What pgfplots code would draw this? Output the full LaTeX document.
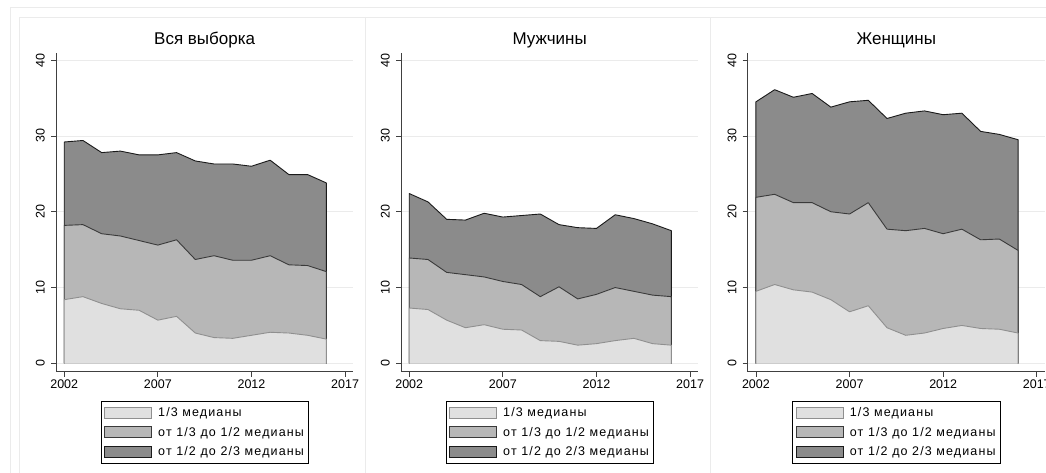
\documentclass[border=0pt]{standalone}
\usepackage{fontspec}
\setmainfont{Liberation Sans}
\newfontfamily\legfont[LetterSpace=9]{Liberation Sans}
\usepackage{pgfplots}
\usepackage{pgfplotstable}
\pgfplotsset{compat=1.18}
\definecolor{fl}{HTML}{E0E0E0}
\definecolor{fm}{HTML}{B7B7B7}
\definecolor{fd}{HTML}{8B8B8B}
\definecolor{ll}{HTML}{8F8F8F}
\definecolor{lm}{HTML}{3A3A3A}
\definecolor{ld}{HTML}{1A1A1A}
\definecolor{frame}{HTML}{EBEBEB}

\pgfplotstableread{
year a b c
2002 0 0 0
2002 8.4 18.2 29.2
2003 8.8 18.3 29.4
2004 7.9 17.1 27.8
2005 7.2 16.8 28.0
2006 7.0 16.2 27.5
2007 5.7 15.6 27.5
2008 6.2 16.3 27.8
2009 4.0 13.7 26.7
2010 3.4 14.2 26.3
2011 3.3 13.6 26.3
2012 3.7 13.6 26.0
2013 4.1 14.2 26.8
2014 4.0 13.0 24.9
2015 3.7 12.9 24.9
2016 3.2 12.1 23.8
2016 0 0 0
}\tabAll

\pgfplotstableread{
year a b c
2002 0 0 0
2002 7.3 13.9 22.4
2003 7.1 13.7 21.3
2004 5.7 12.0 19.0
2005 4.7 11.7 18.9
2006 5.1 11.4 19.8
2007 4.5 10.8 19.3
2008 4.4 10.4 19.5
2009 3.0 8.8 19.7
2010 2.9 10.1 18.3
2011 2.4 8.5 17.9
2012 2.6 9.1 17.8
2013 3.0 10.0 19.6
2014 3.3 9.5 19.1
2015 2.6 9.0 18.4
2016 2.4 8.8 17.5
2016 0 0 0
}\tabMen

\pgfplotstableread{
year a b c
2002 0 0 0
2002 9.5 21.9 34.5
2003 10.4 22.3 36.1
2004 9.7 21.2 35.1
2005 9.4 21.2 35.6
2006 8.4 20.0 33.8
2007 6.8 19.7 34.5
2008 7.6 21.2 34.7
2009 4.7 17.7 32.3
2010 3.7 17.5 33.0
2011 4.0 17.8 33.3
2012 4.6 17.1 32.8
2013 5.0 17.7 33.0
2014 4.6 16.3 30.6
2015 4.5 16.4 30.2
2016 4.0 14.9 29.5
2016 0 0 0
}\tabWomen

\pgfplotsset{panel/.style={
  scale only axis, width=297.3pt, height=318.4pt, anchor=south west,
  xmin=2001.56, xmax=2017.44, ymin=-1.1, ymax=40.9,
  axis x line*=bottom, axis y line*=left,
  axis line style={draw=black!75, line width=0.8pt},
  xtick={2002,2007,2012,2017}, ytick={0,10,20,30,40},
  tick align=outside, major tick length=5pt,
  tick style={draw=black!75, line width=0.8pt},
  /pgf/number format/assume math mode=true,
  xticklabel style={font=\fontsize{12.5}{14}\selectfont, /pgf/number format/set thousands separator={}},
  yticklabel style={font=\fontsize{12.5}{14}\selectfont, rotate=90, anchor=south, inner sep=6pt},
  ymajorgrids, grid style={draw=frame, line width=0.8pt},
  title style={font=\fontsize{17}{20}\selectfont, anchor=south, at={(0.5,1)}, yshift=-3pt, inner sep=2pt},
  legend style={at={(0.5,-0.092)}, anchor=north, draw=black, line width=0.8pt,
    font=\legfont\fontsize{12.5}{14}\selectfont, row sep=7pt, inner xsep=3.5pt, inner ysep=5pt,
    nodes={inner sep=1pt},
    /tikz/every odd column/.append style={column sep=5pt}},
  legend cell align=left,
  legend image code/.code={\draw[#1, line width=0.8pt] (0pt,-5.5pt) rectangle (47pt,5.5pt);},
}}

\newcommand{\panel}[3]{%
  \begin{axis}[panel, at={(#1,101.3pt)}, title={#3}]
    \addlegendimage{fill=fl, draw=ll}
    \addlegendentry{1/3 медианы}
    \addlegendimage{fill=fm, draw=lm}
    \addlegendentry{от 1/3 до 1/2 медианы}
    \addlegendimage{fill=fd, draw=ld}
    \addlegendentry{от 1/2 до 2/3 медианы}
    \addplot[forget plot, fill=fd, draw=ld, line width=0.9pt, line join=round] table[x=year, y=c] {#2};
    \addplot[forget plot, fill=fm, draw=lm, line width=0.9pt, line join=round] table[x=year, y=b] {#2};
    \addplot[forget plot, fill=fl, draw=ll, line width=0.9pt, line join=round] table[x=year, y=a] {#2};
  \end{axis}}

\begin{document}
\begin{tikzpicture}[x=1pt, y=1pt]
  \useasboundingbox (0,0) rectangle (1046,473);
  \draw[frame, line width=0.8pt] (10,0) -- (10,466) -- (1046,466);
  \draw[frame, line width=0.8pt] (19,0) -- (19,456) -- (1046,456);
  \draw[frame, line width=0.8pt] (365.7,0) -- (365.7,456);
  \draw[frame, line width=0.8pt] (710.7,0) -- (710.7,456);
  \panel{56pt}{\tabAll}{Вся выборка}
  \panel{401pt}{\tabMen}{Мужчины}
  \panel{747.7pt}{\tabWomen}{Женщины}
\end{tikzpicture}
\end{document}
